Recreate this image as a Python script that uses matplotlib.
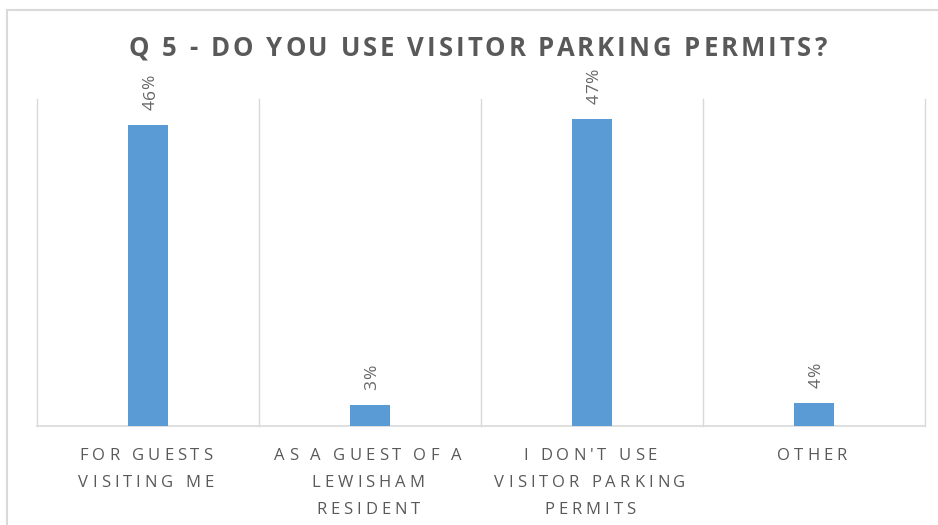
import matplotlib
matplotlib.use("Agg")
import matplotlib.pyplot as plt
from matplotlib.transforms import IdentityTransform
from matplotlib.font_manager import FontProperties
from matplotlib.lines import Line2D

# Data
title = "Q 5 - DO YOU USE VISITOR PARKING PERMITS?"
categories = [
    ["FOR GUESTS", "VISITING ME"],
    ["AS A GUEST OF A", "LEWISHAM", "RESIDENT"],
    ["I DON'T USE", "VISITOR PARKING", "PERMITS"],
    ["OTHER"],
]
shares = [0.460, 0.032, 0.469, 0.035]
share_labels = ["46%", "3%", "47%", "4%"]

BLUE = "#5B9BD5"
GREY_TEXT = "#595959"
GRID = "#D9D9D9"
W, H = 938, 525


def spaced_text(fig, renderer, x, y, text, size, spacing, weight="normal",
                color=GREY_TEXT, rotation=0, align="center"):
    """Draw text char by char with extra letter spacing (pixel coords, origin bottom-left)."""
    prop = FontProperties(family="Open Sans", size=size, weight=weight)

    def width(s):
        return renderer.get_text_width_height_descent(s, prop, ismath=False)[0]

    ref = width("x")
    offsets = [width(text[:i] + "x") - ref if i else 0.0 for i in range(len(text))]
    total = width(text) + spacing * (len(text) - 1)
    start = -total / 2 if align == "center" else 0.0
    for i, ch in enumerate(text):
        d = start + offsets[i] + i * spacing
        if rotation == 90:
            px, py = x, y + d
        else:
            px, py = x + d, y
        fig.text(px, py, ch, transform=IdentityTransform(), fontproperties=prop,
                 color=color, rotation=rotation, rotation_mode="anchor",
                 ha="left", va="baseline")


fig = plt.figure(figsize=(W / 100, H / 100), dpi=100)
renderer = fig.canvas.get_renderer()

# Plot area
ax = fig.add_axes([37 / W, 1 - 426 / H, (925 - 37) / W, (426 - 99) / H])
x = list(range(len(shares)))
ax.bar(x, shares, width=0.18, color=BLUE, zorder=3)
ax.set_xlim(-0.5, len(shares) - 0.5)
ax.set_ylim(0, 0.5)
for b in [i - 0.5 for i in range(len(shares) + 1)]:
    ax.axvline(b, color=GRID, lw=1.0, zorder=1, clip_on=False)
for side in ["top", "left", "right"]:
    ax.spines[side].set_visible(False)
ax.spines["bottom"].set_color(GRID)
ax.spines["bottom"].set_linewidth(1.2)
ax.set_xticks([])
ax.set_yticks([])

# Chart frame (left and top edges visible)
fig.add_artist(Line2D([7 / W, 7 / W], [0, 1 - 9.5 / H], transform=fig.transFigure,
                      color=GRID, lw=1.5))
fig.add_artist(Line2D([7 / W, 1], [1 - 9.5 / H, 1 - 9.5 / H], transform=fig.transFigure,
                      color=GRID, lw=1.5))

# Title
spaced_text(fig, renderer, 478, H - 56, title, 18.5, 3.0, weight="bold")

# Category labels
for i, lines in enumerate(categories):
    cx, _ = ax.transData.transform((i, 0))
    for j, line in enumerate(lines):
        spaced_text(fig, renderer, cx - 2, H - 460 - 27 * j, line, 12, 4.0)

# Data labels
for i, (v, lab) in enumerate(zip(shares, share_labels)):
    bx, by = ax.transData.transform((i, v))
    spaced_text(fig, renderer, bx + 6.5, by + 15, lab, 12.5, 0.8, rotation=90,
                align="start", color="#666666")

fig.savefig("out.png", dpi=100)
